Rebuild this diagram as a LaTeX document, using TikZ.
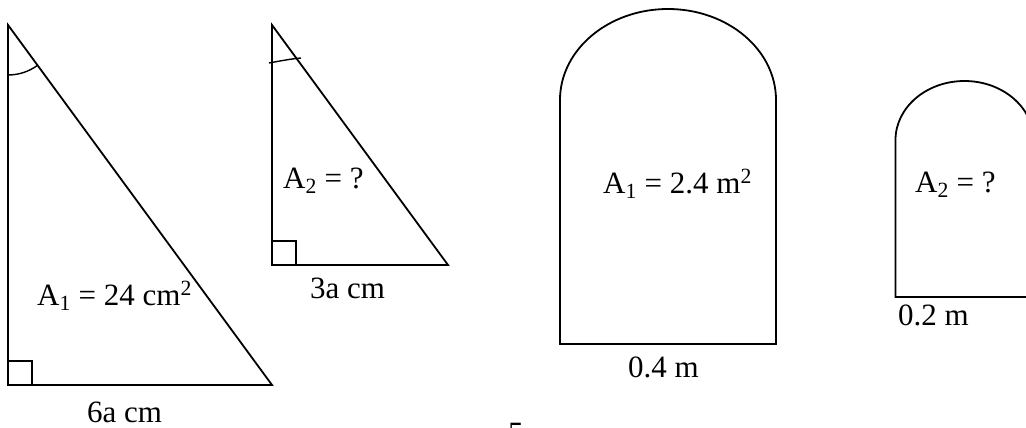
\documentclass[tikz,border=0pt]{standalone}
\usepackage{fontspec}
\setmainfont{Liberation Serif}
\begin{document}
\begin{tikzpicture}[x=1pt,y=1pt,
  outline/.style={line width=1.8pt, line join=miter},
  tick/.style={line width=1.4pt},
  lbl/.style={inner sep=0pt, anchor=base west, font=\fontsize{31}{36}\selectfont}]
\useasboundingbox (0,0) rectangle (1026,-428);
% triangle 1
\coordinate (t1a) at (8,-25);
\coordinate (t1b) at (8,-385);
\coordinate (t1c) at (272,-385);
\draw[outline] (t1a) -- (t1b) -- (t1c) -- cycle;
\draw[tick] (8,-361) -| (32,-385);
\draw[tick] ([shift={(-90:50)}]t1a) arc[start angle=-90, end angle=-53.7, radius=50];
% triangle 2
\coordinate (t2a) at (272,-25);
\coordinate (t2b) at (272,-265);
\coordinate (t2c) at (448,-265);
\draw[outline] (t2a) -- (t2b) -- (t2c) -- cycle;
\draw[tick] (272,-241) -| (296,-265);
\draw[tick] (269,-63) .. controls (280,-61) and (290,-59) .. (301,-58);
% arch 1
\draw[outline] (560,-344) -- (560,-100) arc[start angle=180, end angle=0, x radius=108, y radius=91] -- (776,-344) -- cycle;
% arch 2
\draw[outline] (895.5,-297) -- (895.5,-140) arc[start angle=180, end angle=0, x radius=69, y radius=59] -- (1033.5,-297) -- cycle;
% labels
\node[lbl] (l1) at (37,-305) {A\textsubscript{1} = 24 cm\textsuperscript{2}};
\node[lbl] (l2) at (87,-422) {6a cm};
\node[lbl] (l3) at (283,-188) {A\textsubscript{2} = ?};
\node[lbl] (l4) at (310,-298) {3a cm};
\node[lbl] (l5) at (603,-193) {A\textsubscript{1} = 2.4 m\textsuperscript{2}};
\node[lbl] (l6) at (628,-377) {0.4 m};
\node[lbl] (l7) at (915,-192) {A\textsubscript{2} = ?};
\node[lbl] (l8) at (898,-325) {0.2 m};
\node[lbl, anchor=north west] (l9) at (508,-423) {5};
\end{tikzpicture}
\end{document}
